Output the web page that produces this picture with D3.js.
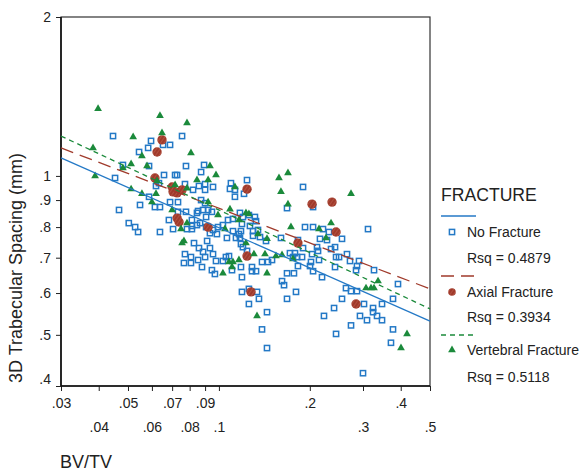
<!DOCTYPE html>
<html><head><meta charset="utf-8">
<script src="https://cdn.jsdelivr.net/npm/d3@7"></script>
<style>
html,body{margin:0;padding:0;background:#fff;}
svg{display:block;font-family:"Liberation Sans",Arial,sans-serif;}
</style></head>
<body><svg id="c" width="582" height="473"></svg>
<script>
// ---- data (BV/TV, 3D Tb.Sp in mm) ----
const noFracture = [[0.0446,1.190],[0.0596,1.165],[0.0583,1.130],[0.0544,1.110],[0.0653,1.145],[0.0689,1.145],[0.0755,1.190],[0.0481,1.049],[0.0587,1.044],[0.0778,1.044],[0.0893,1.049],[0.0453,0.991],[0.0658,1.004],[0.0716,1.004],[0.0727,1.004],[0.0873,1.017],[0.0619,0.957],[0.0633,0.969],[0.0772,0.965],[0.0821,0.941],[0.0859,0.957],[0.090,0.965],[0.090,0.941],[0.0956,0.953],[0.0587,0.913],[0.0548,0.881],[0.0467,0.862],[0.0614,0.873],[0.0638,0.873],[0.0503,0.814],[0.0528,0.800],[0.054,0.783],[0.0638,0.783],[0.0689,0.892],[0.0732,0.892],[0.0732,0.855],[0.0778,0.855],[0.0683,0.825],[0.0705,0.793],[0.0846,0.851],[0.0814,0.825],[0.0814,0.804],[0.0846,0.807],[0.0784,0.793],[0.0814,0.793],[0.0827,0.746],[0.0772,0.711],[0.0808,0.702],[0.0766,0.684],[0.0808,0.684],[0.0853,0.693],[0.0859,0.730],[0.0873,0.900],[0.090,0.888],[0.0853,0.858],[0.0886,0.862],[0.0921,0.862],[0.0948,0.855],[0.0907,0.836],[0.0886,0.718],[0.0914,0.753],[0.0879,0.672],[0.0866,0.814],[0.0907,0.800],[0.1096,0.969],[0.1088,0.945],[0.113,0.941],[0.1211,0.925],[0.1239,0.982],[0.113,0.913],[0.1174,0.851],[0.1201,0.836],[0.1257,0.843],[0.1316,0.836],[0.1327,0.821],[0.1072,0.825],[0.1113,0.829],[0.0993,0.800],[0.1031,0.807],[0.0956,0.790],[0.1113,0.786],[0.1165,0.776],[0.1139,0.763],[0.1174,0.763],[0.1063,0.763],[0.1183,0.743],[0.1201,0.733],[0.1239,0.721],[0.1192,0.811],[0.1267,0.804],[0.1183,0.786],[0.1297,0.786],[0.1297,0.770],[0.1347,0.790],[0.1368,0.766],[0.1432,0.753],[0.1605,0.763],[0.0956,0.711],[0.0978,0.690],[0.1031,0.690],[0.1055,0.702],[0.108,0.705],[0.0948,0.663],[0.097,0.652],[0.1105,0.663],[0.1183,0.672],[0.1192,0.643],[0.1287,0.672],[0.1287,0.660],[0.1327,0.660],[0.1389,0.687],[0.1454,0.687],[0.1499,0.693],[0.1192,0.603],[0.1257,0.611],[0.1337,0.603],[0.1357,0.585],[0.1257,0.572],[0.1389,0.512],[0.1443,0.552],[0.1443,0.472],[0.1899,0.953],[0.1681,0.869],[0.205,0.873],[0.1928,0.800],[0.205,0.800],[0.2211,0.793],[0.2314,0.783],[0.3117,0.793],[0.2161,0.760],[0.228,0.756],[0.2556,0.760],[0.1827,0.756],[0.1899,0.730],[0.2113,0.733],[0.2129,0.721],[0.2351,0.727],[0.2424,0.733],[0.2443,0.702],[0.2499,0.702],[0.2655,0.711],[0.2717,0.690],[0.291,0.690],[0.1719,0.714],[0.1786,0.714],[0.1759,0.702],[0.1814,0.702],[0.1885,0.702],[0.2034,0.711],[0.2018,0.687],[0.2003,0.675],[0.205,0.660],[0.2145,0.693],[0.1827,0.675],[0.2424,0.672],[0.2866,0.675],[0.2845,0.663],[0.1681,0.654],[0.1772,0.654],[0.2195,0.643],[0.3263,0.663],[0.3917,0.624],[0.1618,0.632],[0.1643,0.621],[0.180,0.603],[0.2635,0.613],[0.2738,0.605],[0.2866,0.605],[0.1681,0.585],[0.2556,0.585],[0.2406,0.562],[0.3023,0.572],[0.3239,0.562],[0.3239,0.552],[0.3468,0.572],[0.3771,0.585],[0.2932,0.543],[0.3093,0.533],[0.3339,0.543],[0.3468,0.533],[0.2228,0.543],[0.2738,0.521],[0.3771,0.512],[0.2443,0.502],[0.3713,0.483],[0.300,0.423],[0.0934,0.730],[0.090,0.702],[0.0985,0.776],[0.0934,0.779]];

const axialFracture = [[0.0648,1.170],[0.0624,1.110],[0.0614,0.991],[0.070,0.953],[0.0705,0.933],[0.0755,0.941],[0.0727,0.929],[0.0727,0.832],[0.0738,0.818],[0.0921,0.800],[0.1239,0.944],[0.1239,0.705],[0.1277,0.603],[0.2034,0.884],[0.2369,0.892],[0.2443,0.783],[0.1827,0.746],[0.2845,0.572]];

const vertebralFracture = [[0.0398,1.34],[0.0638,1.30],[0.0784,1.26],[0.052,1.185],[0.0648,1.206],[0.0383,1.13],[0.0808,1.105],[0.0556,1.091],[0.0512,1.053],[0.0481,1.035],[0.0578,1.044],[0.0389,1.0],[0.0624,0.978],[0.0512,0.944],[0.0556,0.925],[0.0619,0.925],[0.060,0.892],[0.0716,0.961],[0.0846,0.982],[0.0921,0.982],[0.0784,0.948],[0.0934,1.044],[0.0978,1.004],[0.070,0.862],[0.0784,0.814],[0.0749,0.793],[0.0755,0.746],[0.0766,0.753],[0.0993,0.843],[0.0921,0.892],[0.1047,0.793],[0.1088,0.865],[0.1229,0.851],[0.1257,0.847],[0.1165,0.825],[0.1031,0.654],[0.108,0.687],[0.1113,0.687],[0.1105,0.672],[0.1165,0.693],[0.1229,0.746],[0.1306,0.711],[0.1347,0.776],[0.1337,0.543],[0.1443,0.654],[0.1443,0.760],[0.113,0.953],[0.1581,0.991],[0.1693,1.013],[0.1605,0.933],[0.1693,0.884],[0.1732,0.800],[0.2145,0.793],[0.2263,0.763],[0.2351,0.814],[0.2738,0.925],[0.1618,0.708],[0.1759,0.696],[0.1421,0.711],[0.1545,0.705],[0.3364,0.632],[0.307,0.613],[0.3189,0.613],[0.3263,0.613],[0.4196,0.502],[0.4008,0.472]];

// fitted lines (endpoints in data units)
const fitNoFracture = [[0.03,1.082],[0.5,0.531]];
const fitAxial = [[0.03,1.130],[0.5,0.611]];
const fitVertebral = [[0.03,1.19],[0.5,0.560]];

const seriesNames = ["No Fracture","Axial Fracture","Vertebral Fracture"];
const rsqValues = ["0.4879","0.3934","0.5118"];

const xTicks = [0.03,0.04,0.05,0.06,0.07,0.08,0.09,0.1,0.2,0.3,0.4,0.5];
const xTickLabels = [".03",".04",".05",".06",".07",".08",".09",".1",".2",".3",".4",".5"];
const yTicks = [0.4,0.5,0.6,0.7,0.8,0.9,1,2];
const yTickLabels = [".4",".5",".6",".7",".8",".9","1","2"];

// ---- drawing ----
const BLUE = "#2479c6", RED = "#a03a2b", GREEN = "#1b8a3b";
const svg = d3.select("#c");
const defs = svg.append("defs");
const pat = defs.append("pattern").attr("id","hatch").attr("patternUnits","userSpaceOnUse")
  .attr("width",3).attr("height",3).attr("patternTransform","rotate(35)");
pat.append("rect").attr("width",3).attr("height",3).attr("fill",RED);
pat.append("line").attr("x1",0).attr("y1",0).attr("x2",0).attr("y2",3).attr("stroke","#c56a58").attr("stroke-width",0.9);

const x = d3.scaleLog().domain([0.03,0.5]).range([61,430]);
const y = d3.scaleLog().domain([0.4,2]).range([386,17]);

// axes
const xa = svg.append("g").attr("transform","translate(0,386)")
  .call(d3.axisBottom(x).tickValues(xTicks).tickSizeInner(5).tickSizeOuter(0)
    .tickFormat((d,i)=>xTickLabels[i]));
xa.select(".domain").remove();
xa.selectAll("line").attr("stroke","#222");
xa.selectAll("text").attr("y",(d,i)=> i%2===0 ? 12 : 36)
  .attr("font-size",14).attr("fill","#222").attr("font-family","Liberation Sans, Arial, sans-serif");

const ya = svg.append("g").attr("transform","translate(61,0)")
  .call(d3.axisLeft(y).tickValues(yTicks).tickSizeInner(5).tickSizeOuter(0).tickPadding(5)
    .tickFormat((d,i)=>yTickLabels[i]));
ya.select(".domain").remove();
ya.selectAll("line").attr("stroke","#222");
ya.selectAll("text").attr("font-size",14).attr("fill","#222")
  .attr("font-family","Liberation Sans, Arial, sans-serif")
  .attr("dy",(d)=> d===0.4 ? "-0.2em" : "0.32em");

// frame
svg.append("rect").attr("x",x(0.03)).attr("y",y(2))
  .attr("width",x(0.5)-x(0.03)).attr("height",y(0.4)-y(2))
  .attr("fill","none").attr("stroke","#333").attr("stroke-width",1.2);
svg.append("line").attr("x1",x(0.03)).attr("x2",x(0.03)).attr("y1",y(2)).attr("y2",y(0.4)).attr("stroke","#111").attr("stroke-width",1.6);
svg.append("line").attr("x1",x(0.03)).attr("x2",x(0.5)).attr("y1",y(0.4)).attr("y2",y(0.4)).attr("stroke","#111").attr("stroke-width",1.6);

// points
const plot = svg.append("g");
plot.selectAll("rect.nf").data(noFracture).join("rect").attr("class","nf")
  .attr("x",d=>x(d[0])-2.6).attr("y",d=>y(d[1])-2.6).attr("width",5.2).attr("height",5.2)
  .attr("fill","none").attr("stroke",BLUE).attr("stroke-width",1.5);
plot.selectAll("circle.ax").data(axialFracture).join("circle").attr("class","ax")
  .attr("cx",d=>x(d[0])).attr("cy",d=>y(d[1])).attr("r",4.7)
  .attr("fill","url(#hatch)");
const tri = d3.symbol().type(d3.symbolTriangle).size(26);
plot.selectAll("path.vf").data(vertebralFracture).join("path").attr("class","vf")
  .attr("d",tri).attr("transform",d=>`translate(${x(d[0])},${y(d[1])})`)
  .attr("fill",GREEN);

// fit lines
const line = d3.line().x(d=>x(d[0])).y(d=>y(d[1]));
svg.append("path").datum(fitNoFracture).attr("d",line).attr("fill","none").attr("stroke",BLUE).attr("stroke-width",1.3);
svg.append("path").datum(fitAxial).attr("d",line).attr("fill","none").attr("stroke",RED).attr("stroke-width",1.3).attr("stroke-dasharray","13,7");
svg.append("path").datum(fitVertebral).attr("d",line).attr("fill","none").attr("stroke",GREEN).attr("stroke-width",1.3).attr("stroke-dasharray","5,4");

// axis titles
svg.append("text").attr("transform","translate(22,268) rotate(-90)").attr("text-anchor","middle")
  .attr("font-size",18).attr("fill","#222").text("3D Trabecular Spacing (mm)");
svg.append("text").attr("x",60).attr("y",468).attr("font-size",18).attr("fill","#222").text("BV/TV");

// legend
const lg = svg.append("g");
lg.append("text").attr("x",441).attr("y",200.5).attr("font-size",17.6).attr("fill","#222").text("FRACTURE");
const rows = [
  {lineY:216, dash:null, color:BLUE, markY:232, rsqY:258},
  {lineY:276, dash:"13,7", color:RED, markY:292, rsqY:317},
  {lineY:335, dash:"5,4", color:GREEN, markY:350, rsqY:377}
];
rows.forEach((r,i)=>{
  lg.append("line").attr("x1",441).attr("x2",476).attr("y1",r.lineY).attr("y2",r.lineY)
    .attr("stroke",r.color).attr("stroke-width",1.3).attr("stroke-dasharray",r.dash);
  if(i===0) lg.append("rect").attr("x",452-2.6).attr("y",r.markY-2.6).attr("width",5.2).attr("height",5.2)
      .attr("fill","none").attr("stroke",BLUE).attr("stroke-width",1.5);
  if(i===1) lg.append("circle").attr("cx",452).attr("cy",r.markY).attr("r",3.8).attr("fill","url(#hatch)");
  if(i===2) lg.append("path").attr("d",tri).attr("transform",`translate(452,${r.markY})`).attr("fill",GREEN);
  lg.append("text").attr("x",467).attr("y",r.markY).attr("dy","0.35em").attr("font-size",14).attr("fill","#222").text(seriesNames[i]);
  lg.append("text").attr("x",467).attr("y",r.rsqY).attr("dy","0.35em").attr("font-size",14).attr("fill","#222").text("Rsq = "+rsqValues[i]);
});
</script></body></html>
